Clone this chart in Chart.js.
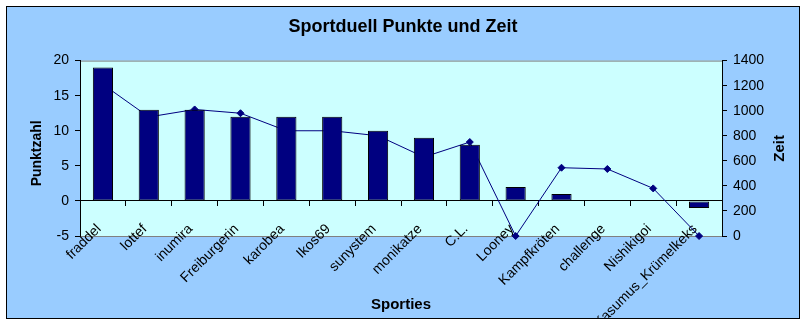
<!DOCTYPE html>
<html lang="de">
<head>
  <meta charset="UTF-8" />
  <title>Sportduell Punkte und Zeit</title>
  <script src="https://cdn.jsdelivr.net/npm/chart.js@4.4.0/dist/chart.umd.min.js"></script>
  <style>
    body   { margin:0; background:#fff; }
    .box   { position:absolute; left:6px; top:6px; width:792px; height:311px;
             border:1px solid #000; background:#99ccff; }
    canvas { display:block; }
  </style>
</head>
<body>
  <div class="box"><canvas id="chart" width="792" height="311"></canvas></div>

  <script>
    /* ── data ── */
    const sporties = ['fraddel','lottef','inumira','Freiburgerin','karobea','Ikos69','sunystem',
                      'monikatze','C.L.','Looney','Kampfkröten','challenge','Nishikigoi','Kasumus_Krümelkeks'];
    const punkte   = [19, 13, 13, 12, 12, 12, 10, 9, 8, 2, 1, 0, 0, -1];
    const zeit     = [1210, 950, 1010, 980, 840, 840, 800, 630, 750, 0, 545, 535, 380, 0];

    const punktTicks = [-5, 0, 5, 10, 15, 20];
    const zeitTicks  = [0, 200, 400, 600, 800, 1000, 1200, 1400];

    const FONT = '"Liberation Sans", Arial, sans-serif';
    Chart.defaults.font.family = FONT;
    Chart.defaults.color = '#000';

    /* plot area background + grey frame top/bottom */
    const plotBg = {
      id:'plotBg',
      beforeDraw(chart){
        const {ctx, chartArea:a} = chart;
        ctx.save();
        ctx.fillStyle = '#ccffff';
        ctx.fillRect(a.left, a.top, a.right - a.left, a.bottom - a.top);
        ctx.strokeStyle = '#808080';
        ctx.lineWidth = 1;
        ctx.beginPath();
        ctx.moveTo(a.left, a.top + 0.5);    ctx.lineTo(a.right, a.top + 0.5);
        ctx.moveTo(a.left, a.bottom + 0.5); ctx.lineTo(a.right, a.bottom + 0.5);
        ctx.stroke();
        ctx.restore();
      }
    };

    /* axis titles (Excel style, both vertical ones read bottom-to-top) */
    const axisTitles = {
      id:'axisTitles',
      afterDraw(chart){
        const {ctx, chartArea:a} = chart;
        ctx.save();
        ctx.fillStyle = '#000';
        ctx.textAlign = 'center';
        ctx.textBaseline = 'middle';
        ctx.font = 'bold 15px ' + FONT;
        ctx.fillText('Sporties', (a.left + a.right) / 2, chart.height - 13);

        ctx.font = 'bold 14px ' + FONT;
        ctx.translate(30, (a.top + a.bottom) / 2 + 5);
        ctx.rotate(-Math.PI / 2);
        ctx.fillText('Punktzahl', 0, 0);
        ctx.restore();

        ctx.save();
        ctx.fillStyle = '#000';
        ctx.textAlign = 'center';
        ctx.textBaseline = 'middle';
        ctx.font = 'bold 15px ' + FONT;
        ctx.translate(773, (a.top + a.bottom) / 2);
        ctx.rotate(-Math.PI / 2);
        ctx.fillText('Zeit', 0, 0);
        ctx.restore();
      }
    };

    new Chart(document.getElementById('chart'), {
      type:'bar',
      data:{
        labels: sporties,
        datasets:[
          {
            type:'bar',
            label:'Punktzahl',
            data: punkte,
            yAxisID:'y',
            backgroundColor:'#000080',
            borderColor:'#000',
            borderWidth:1,
            borderSkipped:false,
            barPercentage:0.44,
            categoryPercentage:1,
            order:0
          },
          {
            type:'line',
            label:'Zeit',
            data: zeit,
            yAxisID:'y1',
            borderColor:'#000080',
            backgroundColor:'#000080',
            borderWidth:1,
            pointStyle:'rectRot',
            pointRadius:3.5,
            tension:0,
            clip:false,
            order:1
          }
        ]
      },
      options:{
        responsive:false,
        animation:false,
        layout:{ padding:{ left:0, right:0, top:0, bottom:82 } },
        plugins:{
          legend:{ display:false },
          tooltip:{ enabled:false },
          title:{
            display:true,
            text:'Sportduell Punkte und Zeit',
            font:{ size:18, weight:'bold' },
            padding:{ top:9, bottom:23 }
          }
        },
        scales:{
          x:{
            position:{ y:0 },
            offset:true,
            grid:{ offset:true, drawOnChartArea:false, drawTicks:true, tickLength:5, color:'#000' },
            border:{ color:'#000', width:1 },
            ticks:{ autoSkip:false, minRotation:45, maxRotation:45, padding:15, labelOffset:-4, font:{ size:14 } }
          },
          y:{
            position:'left',
            min:-5, max:20,
            afterBuildTicks: s => { s.ticks = punktTicks.map(v => ({ value:v })); },
            afterFit: s => { s.width = 73; },
            grid:{ drawOnChartArea:false, tickLength:5, color:'#000' },
            border:{ color:'#000', width:1 },
            ticks:{ padding:6, font:{ size:14 }, callback: v => String(v) }
          },
          y1:{
            position:'right',
            min:0, max:1400,
            afterBuildTicks: s => { s.ticks = zeitTicks.map(v => ({ value:v })); },
            afterFit: s => { s.width = 77; },
            grid:{ drawOnChartArea:false, tickLength:5, color:'#000' },
            border:{ color:'#000', width:1 },
            ticks:{ padding:6, font:{ size:14 }, callback: v => String(v) }
          }
        }
      },
      plugins:[plotBg, axisTitles]
    });
  </script>
</body>
</html>
